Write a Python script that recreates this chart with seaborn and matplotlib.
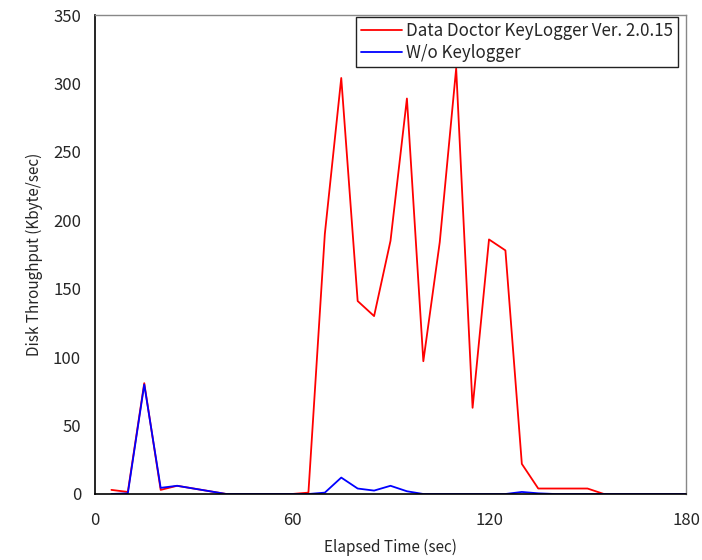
import numpy as np
import pandas as pd
import matplotlib
matplotlib.use('Agg')
import matplotlib.pyplot as plt
import seaborn as sns

elapsed = [5, 10, 15, 20, 25, 30, 35, 40, 45, 50, 55, 60, 65, 70, 75, 80, 85, 90,
           95, 100, 105, 110, 115, 120, 125, 130, 135, 140, 145, 150, 155, 160,
           165, 170, 175, 180]
with_keylogger = [3, 1.5, 81, 3, 6, 4, 2, 0, 0, 0, 0, 0, 1, 190, 304, 141, 130, 185,
                  289, 97, 184, 311, 63, 186, 178, 22, 4, 4, 4, 4, 0, 0,
                  0, 0, 0, 0]
without_keylogger = [0, 0.5, 80, 4.5, 6, 4, 2, 0, 0, 0, 0, 0, 0, 1, 12, 4, 2.5, 6,
                     2, 0, 0, 0, 0, 0, 0, 1.5, 0.5, 0, 0, 0, 0, 0,
                     0, 0, 0, 0]
series_names = ['Data Doctor KeyLogger Ver. 2.0.15', 'W/o Keylogger']

df = pd.DataFrame({
    'Elapsed': elapsed * 2,
    'Throughput': with_keylogger + without_keylogger,
    'Series': [series_names[0]] * len(elapsed) + [series_names[1]] * len(elapsed),
})

sns.set_style('white')
plt.rcParams['font.family'] = ['Noto Sans CJK JP', 'DejaVu Sans']

fig = plt.figure(figsize=(7.02, 5.6), dpi=100)
ax = fig.add_axes([95 / 702, 66 / 560, 591 / 702, 479 / 560])
sns.lineplot(data=df, x='Elapsed', y='Throughput', hue='Series',
             palette=['#ff0000', '#0000ff'], linewidth=1.3, ax=ax)

ax.set_xlim(0, 180)
ax.set_ylim(0, 350)
ax.set_xticks([0, 60, 120, 180])
ax.set_yticks(range(0, 351, 50))
ax.tick_params(axis='x', direction='in', length=5, width=1, labelsize=12, pad=13)
ax.tick_params(axis='y', direction='in', length=5, width=1, labelsize=12, pad=10)
ax.set_xlabel('Elapsed Time (sec)', fontsize=11, labelpad=7)
ax.set_ylabel('Disk Throughput (Kbyte/sec)', fontsize=11, labelpad=7)

for side in ['left', 'bottom']:
    ax.spines[side].set_color('black')
    ax.spines[side].set_linewidth(1.2)
for side in ['top', 'right']:
    ax.spines[side].set_color('#888888')
    ax.spines[side].set_linewidth(1)

leg = ax.legend(loc='upper right', bbox_to_anchor=(0.9865, 0.996), fontsize=12.2,
                frameon=True, fancybox=False, edgecolor='#222222', framealpha=1,
                handlelength=2.4, handletextpad=0.25, borderpad=0.3, labelspacing=0.25,
                borderaxespad=0)
leg.get_frame().set_linewidth(1)

fig.savefig('out.png', dpi=100)
